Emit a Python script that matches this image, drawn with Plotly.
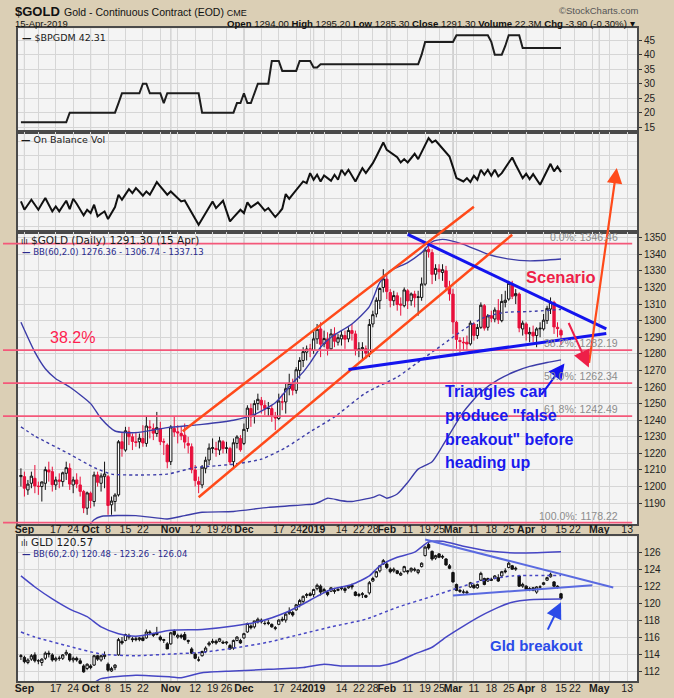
import pandas as pd
import plotly.graph_objects as go

# ---------------- trading calendar ----------------
HOLIDAYS = ["2018-09-03", "2018-11-22", "2018-12-25", "2019-01-01",
            "2019-01-21", "2019-02-18", "2019-04-19", "2019-05-27"]
SESSIONS = [d.strftime("%Y-%m-%d") for d in pd.bdate_range("2018-08-31", "2019-05-31")]
SESSIONS = [d for d in SESSIONS if d not in HOLIDAYS]
POS = {d: i for i, d in enumerate(SESSIONS)}
N_DAYS = 156
DATES = SESSIONS[:N_DAYS]

# ---------------- $GOLD daily OHLC ----------------
GOLD_OPEN = [
    1206, 1206, 1198, 1202, 1205, 1200, 1200, 1202, 1210, 1209,
    1201, 1204, 1203, 1208, 1211, 1201, 1204, 1201, 1197, 1187,
    1196, 1191, 1207, 1202, 1206, 1206, 1189, 1191, 1195, 1227,
    1222, 1233, 1230, 1227, 1227, 1229, 1226, 1236, 1235, 1232,
    1235, 1227, 1225, 1215, 1235, 1233, 1232, 1231, 1226, 1224,
    1210, 1203, 1201, 1211, 1216, 1223, 1223, 1222, 1227, 1223,
    1223, 1215, 1226, 1229, 1226, 1235, 1247, 1243, 1250, 1252,
    1249, 1247, 1247, 1242, 1241, 1251, 1251, 1259, 1262, 1258,
    1270, 1276, 1281, 1283, 1282, 1289, 1295, 1286, 1289, 1283,
    1292, 1287, 1289, 1291, 1289, 1294, 1292, 1282, 1283, 1283,
    1280, 1298, 1304, 1312, 1320, 1325, 1317, 1312, 1315, 1310,
    1309, 1318, 1312, 1316, 1314, 1314, 1322, 1343, 1341, 1328,
    1331, 1329, 1330, 1320, 1316, 1299, 1288, 1287, 1287, 1286,
    1298, 1291, 1296, 1309, 1296, 1303, 1301, 1306, 1300, 1311,
    1313, 1322, 1315, 1316, 1295, 1298, 1292, 1293, 1291, 1295,
    1295, 1300, 1307, 1311, 1296, 1294.0]
GOLD_HIGH = [
    1211, 1209, 1204, 1209, 1213, 1203, 1203, 1212, 1215, 1212,
    1206, 1208, 1209, 1215, 1214, 1206, 1208, 1206, 1198, 1197,
    1197, 1209, 1209, 1208, 1215, 1207, 1194, 1196, 1228, 1233,
    1236, 1236, 1232, 1233, 1232, 1237, 1242, 1240, 1238, 1245,
    1239, 1229, 1226, 1237, 1242, 1237, 1236, 1238, 1230, 1226,
    1213, 1206, 1213, 1218, 1226, 1229, 1227, 1230, 1228, 1227,
    1224, 1229, 1231, 1231, 1238, 1249, 1250, 1252, 1256, 1254,
    1252, 1251, 1249, 1245, 1256, 1256, 1262, 1268, 1265, 1272,
    1278, 1284, 1285, 1286, 1295, 1298, 1299, 1294, 1293, 1295,
    1296, 1292, 1294, 1294, 1296, 1298, 1294, 1287, 1287, 1285,
    1301, 1306, 1314, 1320, 1331, 1328, 1319, 1318, 1317, 1314,
    1320, 1319, 1317, 1318, 1318, 1326, 1344, 1347, 1343, 1334,
    1334, 1334, 1333, 1324, 1319, 1300, 1290, 1290, 1291, 1300,
    1299, 1298, 1311, 1310, 1304, 1306, 1308, 1313, 1316, 1318,
    1324, 1324, 1319, 1317, 1300, 1299, 1296, 1297, 1296, 1299,
    1304, 1309, 1314, 1312, 1299, 1295.2]
GOLD_LOW = [
    1200, 1194, 1195, 1199, 1196, 1195, 1191, 1198, 1203, 1197,
    1198, 1199, 1200, 1204, 1198, 1196, 1199, 1194, 1184, 1183,
    1187, 1188, 1200, 1197, 1199, 1183, 1183, 1185, 1194, 1218,
    1221, 1225, 1222, 1224, 1223, 1224, 1224, 1229, 1228, 1230,
    1225, 1219, 1211, 1213, 1230, 1226, 1228, 1223, 1220, 1208,
    1200, 1196, 1199, 1208, 1213, 1220, 1218, 1219, 1220, 1220,
    1213, 1211, 1223, 1221, 1225, 1233, 1236, 1238, 1246, 1244,
    1243, 1242, 1239, 1234, 1240, 1246, 1244, 1255, 1255, 1256,
    1265, 1272, 1276, 1278, 1280, 1286, 1278, 1284, 1279, 1282,
    1284, 1285, 1285, 1283, 1287, 1288, 1279, 1278, 1276, 1277,
    1278, 1296, 1302, 1307, 1317, 1313, 1308, 1309, 1306, 1303,
    1308, 1307, 1309, 1308, 1303, 1312, 1321, 1338, 1322, 1324,
    1325, 1324, 1318, 1312, 1292, 1283, 1281, 1282, 1282, 1285,
    1288, 1289, 1295, 1294, 1294, 1299, 1299, 1298, 1299, 1308,
    1312, 1313, 1310, 1293, 1291, 1288, 1287, 1287, 1284, 1290,
    1294, 1298, 1304, 1292, 1290, 1285.3]
GOLD_CLOSE = [
    1206.7, 1199.0, 1201.5, 1206.3, 1200.4, 1200.2, 1202.8, 1210.2, 1208.8, 1201.1,
    1204.0, 1203.2, 1208.3, 1211.4, 1201.5, 1204.0, 1201.6, 1197.1, 1187.1, 1196.2,
    1191.6, 1207.0, 1202.6, 1206.4, 1207.6, 1188.6, 1191.3, 1194.9, 1227.0, 1222.8,
    1233.6, 1230.1, 1227.2, 1226.6, 1229.2, 1226.3, 1236.5, 1235.5, 1232.2, 1235.5,
    1227.1, 1226.9, 1214.9, 1235.9, 1232.9, 1232.4, 1230.6, 1226.8, 1224.9, 1210.2,
    1203.6, 1201.4, 1211.7, 1215.9, 1223.2, 1223.4, 1222.3, 1227.6, 1222.9, 1223.3,
    1214.8, 1226.4, 1229.9, 1222.2, 1234.5, 1247.3, 1242.0, 1250.0, 1252.6, 1249.2,
    1247.0, 1247.2, 1242.9, 1241.4, 1251.6, 1251.0, 1259.0, 1262.2, 1258.1, 1270.4,
    1276.0, 1281.3, 1282.9, 1282.0, 1289.0, 1294.8, 1285.8, 1289.2, 1283.2, 1292.0,
    1287.6, 1289.7, 1291.3, 1288.8, 1294.1, 1292.3, 1282.0, 1283.0, 1283.7, 1280.4,
    1297.7, 1303.6, 1312.3, 1319.4, 1325.2, 1317.5, 1312.1, 1315.1, 1309.7, 1309.4,
    1318.5, 1311.9, 1316.1, 1313.8, 1314.3, 1322.1, 1342.6, 1341.5, 1327.9, 1331.5,
    1329.5, 1330.7, 1320.3, 1316.1, 1299.2, 1288.7, 1287.5, 1286.7, 1285.9, 1298.5,
    1291.1, 1295.9, 1309.3, 1295.5, 1302.9, 1301.5, 1306.4, 1300.5, 1311.6, 1312.3,
    1322.5, 1314.7, 1316.3, 1295.6, 1298.5, 1292.0, 1292.9, 1290.8, 1295.0, 1295.4,
    1300.3, 1307.4, 1311.1, 1296.2, 1295.2, 1291.3]

# ---------------- GLD daily OHLC ----------------
GLD_OPEN = [
    113.7, 113.6, 113.0, 113.4, 113.9, 113.2, 113.0, 113.5, 114.1, 113.9,
    113.3, 113.5, 113.5, 114.0, 114.0, 113.3, 113.5, 113.2, 112.6, 112.3,
    112.6, 112.7, 113.8, 113.3, 113.7, 112.8, 112.0, 112.4, 113.9, 115.5,
    115.6, 116.2, 115.8, 115.8, 115.7, 115.9, 115.9, 116.6, 116.4, 116.3,
    116.0, 115.6, 115.2, 115.2, 116.7, 116.0, 116.2, 116.3, 115.6, 114.6,
    114.0, 113.3, 113.8, 114.3, 115.1, 115.5, 115.5, 115.5, 115.4, 115.3,
    115.0, 114.7, 115.6, 115.6, 115.9, 116.6, 117.3, 117.2, 117.8, 118.0,
    117.6, 117.7, 117.5, 117.0, 117.5, 118.1, 118.0, 118.8, 118.9, 119.2,
    119.8, 120.2, 120.9, 121.1, 121.0, 121.7, 122.0, 121.3, 121.3, 121.4,
    121.5, 121.5, 121.7, 121.7, 121.8, 122.1, 121.3, 120.9, 121.0, 120.9,
    121.2, 122.6, 123.1, 123.8, 124.6, 124.6, 124.0, 123.8, 123.8, 123.3,
    123.7, 123.8, 123.8, 124.0, 123.6, 124.3, 125.6, 126.9, 126.1, 125.3,
    125.8, 125.4, 125.2, 124.4, 123.6, 122.2, 121.5, 121.3, 121.2, 121.9,
    122.1, 121.8, 122.7, 122.9, 122.6, 122.8, 122.9, 123.0, 123.2, 123.8,
    124.2, 124.4, 124.0, 123.2, 122.0, 122.0, 121.6, 121.8, 121.3, 121.9,
    122.2, 122.7, 123.1, 122.5, 122.0, 121.1]
GLD_HIGH = [
    114.0, 113.8, 113.5, 114.0, 114.2, 113.4, 113.5, 114.3, 114.4, 114.1,
    113.7, 113.8, 114.0, 114.5, 114.1, 113.7, 113.7, 113.5, 112.8, 112.9,
    112.8, 113.9, 113.9, 113.9, 114.3, 113.0, 112.5, 112.8, 115.9, 116.0,
    116.4, 116.4, 116.0, 116.1, 116.0, 116.2, 116.9, 116.8, 116.5, 117.2,
    116.2, 115.8, 115.4, 116.6, 116.9, 116.4, 116.4, 116.6, 115.7, 114.8,
    114.2, 113.7, 114.4, 114.9, 115.5, 115.8, 115.7, 115.9, 115.6, 115.5,
    115.2, 115.7, 116.1, 115.8, 116.5, 117.7, 117.5, 117.9, 118.3, 118.2,
    117.9, 118.0, 117.6, 117.3, 118.1, 118.4, 118.9, 119.5, 119.1, 119.9,
    120.5, 120.9, 121.2, 121.3, 121.7, 122.3, 122.2, 121.8, 121.5, 121.9,
    121.8, 121.8, 122.0, 121.9, 122.1, 122.3, 121.4, 121.2, 121.3, 121.0,
    122.6, 123.1, 123.8, 124.5, 125.2, 124.9, 124.2, 124.2, 123.9, 123.7,
    124.4, 123.9, 124.2, 124.2, 124.0, 124.8, 126.7, 127.2, 126.2, 125.7,
    125.9, 125.7, 125.3, 124.6, 123.7, 122.3, 121.7, 121.6, 121.5, 122.5,
    122.3, 122.3, 123.7, 123.0, 123.0, 123.0, 123.3, 123.4, 123.8, 124.1,
    124.9, 124.5, 124.3, 123.3, 122.4, 122.1, 121.9, 121.9, 122.0, 122.1,
    122.5, 123.1, 123.6, 122.6, 122.1, 121.2]
GLD_LOW = [
    113.3, 112.9, 112.8, 113.2, 113.0, 112.8, 112.6, 113.3, 113.6, 113.1,
    113.1, 113.2, 113.3, 113.8, 113.1, 113.0, 113.1, 112.8, 111.8, 112.1,
    112.2, 112.6, 113.2, 113.1, 113.4, 111.9, 111.9, 112.1, 113.8, 115.1,
    115.5, 115.7, 115.4, 115.5, 115.5, 115.5, 115.8, 116.2, 116.0, 116.2,
    115.5, 115.3, 114.6, 115.1, 116.1, 115.8, 115.8, 115.6, 115.2, 114.0,
    113.4, 113.1, 113.7, 114.1, 114.9, 115.2, 115.1, 115.4, 115.2, 115.1,
    114.5, 114.5, 115.5, 115.2, 115.8, 116.5, 116.9, 117.0, 117.6, 117.6,
    117.4, 117.4, 117.1, 116.8, 117.4, 117.8, 117.7, 118.6, 118.4, 119.1,
    119.5, 119.9, 120.6, 120.8, 120.7, 121.5, 120.9, 121.2, 120.8, 121.3,
    121.1, 121.4, 121.5, 121.2, 121.7, 121.6, 120.8, 120.7, 120.6, 120.6,
    121.0, 122.5, 123.0, 123.6, 124.5, 124.0, 123.5, 123.6, 123.4, 123.2,
    123.6, 123.4, 123.6, 123.7, 123.4, 124.2, 125.5, 126.3, 125.0, 125.1,
    125.3, 125.2, 124.4, 124.0, 122.4, 121.4, 121.2, 121.1, 121.0, 121.8,
    121.7, 121.7, 122.6, 122.1, 122.5, 122.6, 122.8, 122.5, 123.1, 123.5,
    124.1, 123.9, 123.8, 121.9, 121.8, 121.5, 121.4, 121.4, 121.1, 121.7,
    122.1, 122.6, 123.0, 121.9, 121.7, 120.4]
GLD_CLOSE = [
    113.8, 113.1, 113.3, 113.8, 113.2, 113.2, 113.4, 114.1, 114.0, 113.3,
    113.5, 113.5, 113.9, 114.2, 113.3, 113.5, 113.3, 112.9, 111.9, 112.8,
    112.4, 113.8, 113.4, 113.8, 113.9, 112.1, 112.3, 112.7, 115.7, 115.3,
    116.3, 116.0, 115.7, 115.7, 115.9, 115.6, 116.6, 116.5, 116.2, 116.5,
    115.7, 115.7, 114.6, 116.5, 116.3, 116.2, 116.0, 115.7, 115.5, 114.1,
    113.5, 113.3, 114.3, 114.7, 115.3, 115.4, 115.3, 115.8, 115.3, 115.4,
    114.6, 115.6, 116.0, 115.3, 116.4, 117.6, 117.1, 117.9, 118.1, 117.8,
    117.6, 117.6, 117.2, 117.1, 118.0, 118.0, 118.7, 119.0, 118.6, 119.8,
    120.3, 120.8, 121.0, 120.9, 121.6, 122.1, 121.3, 121.6, 121.0, 121.8,
    121.4, 121.6, 121.8, 121.5, 122.0, 121.9, 120.9, 121.0, 121.1, 120.7,
    122.4, 122.9, 123.7, 124.4, 125.0, 124.2, 123.7, 124.0, 123.5, 123.5,
    124.3, 123.7, 124.1, 123.9, 123.9, 124.7, 126.6, 126.5, 125.2, 125.6,
    125.4, 125.5, 124.5, 124.1, 122.5, 121.5, 121.4, 121.3, 121.3, 122.4,
    121.8, 122.2, 123.5, 122.2, 122.9, 122.7, 123.2, 122.6, 123.7, 123.7,
    124.7, 124.0, 124.1, 122.0, 122.2, 121.6, 121.7, 121.5, 121.9, 121.9,
    122.4, 123.0, 123.4, 122.0, 121.9, 120.57]

# ---------------- indicators ----------------
BPGDM = [
    16.7, 16.7, 16.7, 16.7, 16.7, 16.7, 16.7, 16.7, 16.7, 16.7, 16.7, 16.7, 16.7, 16.7, 20.0, 20.0, 20.0, 20.0, 20.0, 20.0,
    20.0, 20.0, 20.0, 20.0, 20.0, 20.0, 20.0, 20.0, 23.3, 26.7, 26.7, 26.7, 26.7, 26.7, 26.7, 30.0, 30.0, 26.7, 26.7, 26.7,
    26.7, 23.3, 26.7, 26.7, 26.7, 26.7, 26.7, 26.7, 26.7, 26.7, 26.7, 26.7, 20.0, 20.0, 20.0, 20.0, 20.0, 20.0, 20.0, 20.0,
    20.0, 20.0, 23.3, 23.3, 26.7, 23.3, 23.3, 26.7, 30.0, 30.0, 30.0, 30.0, 37.8, 37.8, 37.8, 34.4, 34.4, 34.4, 34.4, 34.4,
    37.8, 37.8, 37.8, 37.8, 35.6, 35.6, 36.7, 36.7, 36.7, 36.7, 36.7, 36.7, 36.7, 36.7, 36.7, 36.7, 36.7, 36.7, 36.7, 36.7,
    36.7, 36.7, 36.7, 36.7, 36.7, 36.7, 36.7, 36.7, 36.7, 36.7, 36.7, 36.7, 36.7, 36.7, 36.7, 40.0, 44.4, 44.4, 44.4, 44.4,
    44.4, 44.4, 44.4, 44.4, 44.4, 46.7, 46.7, 46.7, 46.7, 46.7, 46.7, 46.7, 46.7, 46.7, 46.7, 44.4, 40.0, 40.0, 40.0, 43.0,
    46.7, 46.7, 46.7, 46.7, 42.31, 42.31, 42.31, 42.31, 42.31, 42.31, 42.31, 42.31, 42.31, 42.31, 42.31, 42.31]
OBV = [
    85, 60, 75, 90, 75, 60, 78, 95, 75, 55,
    70, 55, 71, 87, 62, 93, 78, 60, 43, 60,
    50, 75, 40, 48, 55, 32, 50, 68, 105, 90,
    106, 122, 110, 125, 114, 102, 115, 105, 124, 143,
    130, 117, 105, 115, 105, 95, 85, 88, 70, 52,
    34, 15, 32, 50, 68, 85, 65, 76, 87, 56,
    25, 37, 48, 60, 50, 82, 67, 75, 82, 70,
    57, 65, 52, 38, 50, 63, 107, 93, 106, 119,
    132, 145, 140, 170, 150, 165, 145, 163, 155, 147,
    165, 150, 180, 165, 180, 162, 145, 165, 185, 170,
    185, 200, 220, 242, 262, 240, 232, 225, 218, 202,
    212, 202, 215, 228, 212, 233, 254, 275, 262, 268,
    256, 244, 232, 220, 188, 155, 150, 145, 155, 143,
    162, 150, 180, 165, 180, 162, 180, 160, 170, 185,
    200, 217, 195, 175, 155, 168, 152, 167, 151, 135,
    156, 177, 198, 175, 190, 173]

GOLD_BB_UP_D = ["2018-08-31", "2018-09-07", "2018-09-12", "2018-09-17", "2018-09-21", "2018-10-01",
                "2018-10-04", "2018-10-10", "2018-10-18", "2018-10-31", "2018-11-14", "2018-11-28",
                "2018-12-06", "2018-12-14", "2018-12-21", "2018-12-27", "2018-12-31", "2019-01-04",
                "2019-01-09", "2019-01-17", "2019-01-25", "2019-01-30", "2019-02-04", "2019-02-11",
                "2019-02-15", "2019-02-21", "2019-02-26", "2019-03-06", "2019-03-15", "2019-03-22",
                "2019-04-02", "2019-04-15"]
GOLD_BB_UP_V = [1299, 1281, 1271, 1265, 1260, 1250, 1241, 1233.5, 1232.5, 1235.5, 1237.5, 1240,
                1243.5, 1250.5, 1262.5, 1269, 1274.5, 1284, 1290, 1298, 1308.5, 1323, 1330, 1335,
                1341, 1347.5, 1349, 1346, 1340, 1337.5, 1336, 1337.13]
GOLD_BB_MID_D = ["2018-08-31", "2018-09-07", "2018-09-21", "2018-10-02", "2018-10-09", "2018-10-18",
                 "2018-10-31", "2018-11-12", "2018-11-20", "2018-11-28", "2018-12-10", "2018-12-19",
                 "2018-12-31", "2019-01-10", "2019-01-24", "2019-02-06", "2019-02-14", "2019-02-26",
                 "2019-03-06", "2019-03-14", "2019-03-22", "2019-04-02", "2019-04-15"]
GOLD_BB_MID_V = [1236, 1230.5, 1219.5, 1211.5, 1207.5, 1207, 1207.5, 1211.5, 1212.5, 1213.5, 1216.5,
                 1223.5, 1233, 1242, 1256.5, 1266, 1275, 1285.5, 1294.5, 1302, 1305, 1305.5, 1306.74]
GOLD_BB_LO_D = ["2018-09-28", "2018-10-02", "2018-10-04", "2018-10-18", "2018-10-31", "2018-11-07",
                "2018-11-14", "2018-11-28", "2018-12-12", "2018-12-27", "2019-01-02", "2019-01-04",
                "2019-01-08", "2019-01-14", "2019-01-17", "2019-01-28", "2019-01-30", "2019-02-01",
                "2019-02-06", "2019-02-11", "2019-02-14", "2019-02-21", "2019-02-26", "2019-03-06",
                "2019-03-13", "2019-03-20", "2019-03-27", "2019-04-02", "2019-04-09", "2019-04-15"]
GOLD_BB_LO_V = [1175, 1180, 1182, 1182.5, 1180.5, 1182.5, 1184.5, 1185, 1187.5, 1189, 1189.5, 1191,
                1193, 1191.5, 1191, 1193.5, 1195, 1193, 1195.5, 1202.5, 1210.5, 1215, 1224.5, 1245,
                1257, 1264.5, 1269.5, 1272.4, 1274.8, 1276.36]

GLD_BB_UP_D = ["2018-08-31", "2018-09-07", "2018-09-14", "2018-09-21", "2018-09-28", "2018-10-04",
               "2018-10-11", "2018-10-18", "2018-11-01", "2018-11-14", "2018-11-28", "2018-12-10",
               "2018-12-19", "2018-12-27", "2019-01-03", "2019-01-09", "2019-01-17", "2019-01-25",
               "2019-01-30", "2019-02-06", "2019-02-13", "2019-02-20", "2019-02-26", "2019-03-06",
               "2019-03-18", "2019-03-29", "2019-04-15"]
GLD_BB_UP_V = [123.2, 121.9, 120.5, 119.3, 118.4, 117.2, 116.4, 116.1, 116.8, 116.9, 117.3, 117.9,
               118.9, 119.9, 120.8, 121.6, 122.2, 123.2, 124.4, 125.4, 126.0, 127.2, 127.3, 126.7,
               126.1, 125.9, 126.04]
GLD_BB_MID_D = ["2018-08-31", "2018-09-07", "2018-09-21", "2018-10-04", "2018-10-18", "2018-11-01",
                "2018-11-14", "2018-11-28", "2018-12-12", "2018-12-27", "2019-01-09", "2019-01-24",
                "2019-02-06", "2019-02-21", "2019-03-01", "2019-03-13", "2019-03-26", "2019-04-15"]
GLD_BB_MID_V = [116.6, 116.0, 114.9, 114.0, 113.8, 114.0, 114.2, 114.7, 115.4, 116.4, 117.2, 118.1,
                119.5, 120.8, 121.6, 122.6, 123.2, 123.26]
GLD_BB_LO_D = ["2018-10-02", "2018-10-04", "2018-10-18", "2018-11-01", "2018-11-06", "2018-11-14",
               "2018-11-28", "2018-12-12", "2018-12-27", "2019-01-07", "2019-01-14", "2019-01-24",
               "2019-01-30", "2019-02-06", "2019-02-13", "2019-02-21", "2019-02-27", "2019-03-06",
               "2019-03-13", "2019-03-20", "2019-03-26", "2019-04-02", "2019-04-15"]
GLD_BB_LO_V = [110.6, 111.1, 111.5, 111.3, 111.2, 111.8, 112.0, 112.2, 112.4, 112.8, 112.6, 112.6,
               112.6, 113.1, 114.0, 114.8, 116.0, 117.3, 118.5, 119.5, 120.1, 120.4, 120.48]

FIB_LEVELS = [1346.46, 1282.19, 1262.34, 1242.49, 1178.22]
FIB_LABELS = ["0.0%: 1346.46", "38.2%: 1282.19", "50.0%: 1262.34", "61.8%: 1242.49", "100.0%: 1178.22"]

TICK_DATES = ["2018-09-04", "2018-09-10", "2018-09-17", "2018-09-24", "2018-10-01", "2018-10-08",
              "2018-10-15", "2018-10-22", "2018-10-29", "2018-11-01", "2018-11-05", "2018-11-12",
              "2018-11-19", "2018-11-26", "2018-12-03", "2018-12-10", "2018-12-17", "2018-12-24",
              "2018-12-31", "2019-01-02", "2019-01-07", "2019-01-14", "2019-01-22", "2019-01-28",
              "2019-02-01", "2019-02-04", "2019-02-11", "2019-02-19", "2019-02-25", "2019-03-01",
              "2019-03-04", "2019-03-11", "2019-03-18", "2019-03-25", "2019-04-01", "2019-04-08",
              "2019-04-15", "2019-04-22", "2019-04-29", "2019-05-01", "2019-05-06", "2019-05-13"]
TICK_TEXT = ["<b>Sep</b>", "", "17", "24", "<b>Oct</b>", "8",
             "15", "22", "", "<b>Nov</b>", "", "12",
             "19", "26", "<b>Dec</b>", "", "17", "24",
             "", "<b>2019</b>", "", "14", "22", "28",
             "<b>Feb</b>", "", "11", "19", "25", "<b>Mar</b>",
             "", "11", "18", "25", "<b>Apr</b>", "8",
             "15", "22", "", "<b>May</b>", "", "13"]
MONTH_DATES = ["2018-09-04", "2018-10-01", "2018-11-01", "2018-12-03", "2019-01-02",
               "2019-02-01", "2019-03-01", "2019-04-01", "2019-05-01"]

# ---------------- layout constants ----------------
W, H = 674, 698
BEIGE = "#dbcfb5"
PLOTBG = "#f4f4f4"
GRID = "#d6d6d6"
MONTHGRID = "#a9a9a9"
BORDER = "#4a4a4a"
ORANGE = "#ff4a1a"
CRIMSON = "#ee1f48"
BLUE = "#1414ee"
BBBLUE = "#3c3ca8"
FIBRED = "#f4587a"

def PX(x):
    return x / W

def PY(y):
    return 1 - y / H

XR = [-0.86, 176.86]
DX = [PX(15), PX(637)]
D1 = [PY(131.7), PY(28.3)]
D2 = [PY(232.7), PY(131.7)]
D3 = [PY(525), PY(232.7)]
D4 = [PY(682), PY(537)]
R1 = [13.5, 49.1]
R2 = [-8, 295]
R3 = [1177.3, 1353.2]
R4 = [110.82, 127.88]

X = [POS[d] for d in DATES]
TICKX = [POS[d] for d in TICK_DATES]

fig = go.Figure()

# panel 1
fig.add_trace(go.Scatter(x=X, y=BPGDM, mode="lines", line=dict(color="#1e1e1e", width=2),
                         xaxis="x", yaxis="y", hoverinfo="skip"))
# panel 2
fig.add_trace(go.Scatter(x=X, y=OBV, mode="lines", line=dict(color="#111111", width=2),
                         xaxis="x2", yaxis="y2", hoverinfo="skip"))
# panel 3 bands
for d, v, dash in [(GOLD_BB_UP_D, GOLD_BB_UP_V, "solid"), (GOLD_BB_LO_D, GOLD_BB_LO_V, "solid"),
                   (GOLD_BB_MID_D, GOLD_BB_MID_V, "dot")]:
    fig.add_trace(go.Scatter(x=[POS[s] for s in d], y=v, mode="lines",
                             line=dict(color=BBBLUE, width=1.4, dash=dash, shape="spline", smoothing=0.6),
                             xaxis="x3", yaxis="y3", hoverinfo="skip"))

up_idx = [i for i in range(N_DAYS) if i == 0 or GOLD_CLOSE[i] >= GOLD_CLOSE[i - 1]]
dn_idx = [i for i in range(N_DAYS) if i > 0 and GOLD_CLOSE[i] < GOLD_CLOSE[i - 1]]
for idxs, col in [(up_idx, "#111111"), (dn_idx, "#e8103c")]:
    fig.add_trace(go.Candlestick(
        x=[X[i] for i in idxs], open=[GOLD_OPEN[i] for i in idxs], high=[GOLD_HIGH[i] for i in idxs],
        low=[GOLD_LOW[i] for i in idxs], close=[GOLD_CLOSE[i] for i in idxs],
        increasing=dict(line=dict(color=col, width=1), fillcolor="white"),
        decreasing=dict(line=dict(color=col, width=1), fillcolor=col),
        whiskerwidth=0, xaxis="x3", yaxis="y3", hoverinfo="skip", showlegend=False))

# panel 4
for d, v, dash in [(GLD_BB_UP_D, GLD_BB_UP_V, "solid"), (GLD_BB_LO_D, GLD_BB_LO_V, "solid"),
                   (GLD_BB_MID_D, GLD_BB_MID_V, "dot")]:
    fig.add_trace(go.Scatter(x=[POS[s] for s in d], y=v, mode="lines",
                             line=dict(color="#4646c4", width=1.5, dash=dash, shape="spline", smoothing=0.6),
                             xaxis="x4", yaxis="y4", hoverinfo="skip"))
fig.add_trace(go.Candlestick(
    x=X, open=GLD_OPEN, high=GLD_HIGH, low=GLD_LOW, close=GLD_CLOSE,
    increasing=dict(line=dict(color="#111111", width=1), fillcolor="white"),
    decreasing=dict(line=dict(color="#111111", width=1), fillcolor="#111111"),
    whiskerwidth=0, xaxis="x4", yaxis="y4", hoverinfo="skip", showlegend=False))

TICKFONT = dict(family="Liberation Sans, Arial", size=10.5, color="#1a1a1a")

def xax(anchor, labels, standoff=0):
    return dict(domain=DX, range=XR, anchor=anchor, tickmode="array", tickvals=TICKX,
                ticktext=TICK_TEXT, showticklabels=labels, ticks="", tickangle=0, showgrid=True,
                gridcolor=GRID, gridwidth=1, zeroline=False, showline=True, mirror=True,
                linecolor=BORDER, linewidth=1.5, tickfont=TICKFONT, ticklabelstandoff=standoff,
                rangeslider=dict(visible=False), fixedrange=True)

def yax(anchor, dom, rng, vals, labels=True):
    return dict(domain=dom, range=rng, anchor=anchor, side="right", tickmode="array",
                tickvals=vals, showticklabels=labels, ticks="outside" if labels else "",
                ticklen=3, tickcolor="#333333", showgrid=True, gridcolor=GRID, gridwidth=1,
                zeroline=False, showline=True, mirror=True, linecolor=BORDER, linewidth=1.5,
                tickfont=dict(family="Liberation Sans, Arial", size=10, color="#222222"),
                fixedrange=True)

fig.update_layout(
    width=W, height=H, margin=dict(l=0, r=0, t=0, b=0),
    paper_bgcolor=BEIGE, plot_bgcolor=PLOTBG, showlegend=False,
    hovermode=False, dragmode=False, boxgap=0.25, boxgroupgap=0.1,
    xaxis=xax("y", False), xaxis2=xax("y2", False),
    xaxis3=xax("y3", True, -6), xaxis4=xax("y4", True, -3),
    yaxis=yax("x", D1, R1, [15, 20, 25, 30, 35, 40, 45]),
    yaxis2=yax("x2", D2, R2, [10, 52, 95, 137, 180, 222, 265], labels=False),
    yaxis3=yax("x3", D3, R3, list(range(1190, 1351, 10))),
    yaxis4=yax("x4", D4, R4, list(range(112, 127, 2))),
)

shapes = []
for xa, ya in [("x", "y"), ("x2", "y2"), ("x3", "y3"), ("x4", "y4")]:
    for md in MONTH_DATES:
        shapes.append(dict(type="line", xref=xa, yref=ya + " domain", x0=POS[md], x1=POS[md],
                           y0=0, y1=1, line=dict(color=MONTHGRID, width=1), layer="below"))
for lv in FIB_LEVELS:
    shapes.append(dict(type="line", xref="paper", yref="y3", x0=0, x1=PX(632), y0=lv, y1=lv,
                       line=dict(color=FIBRED, width=1.8), layer="above"))

def seg(xa, ya, p0, p1, color, width):
    return dict(type="line", xref=xa, yref=ya, x0=POS[p0[0]], y0=p0[1], x1=POS[p1[0]], y1=p1[1],
                line=dict(color=color, width=width), layer="above")

shapes.append(seg("x3", "y3", ("2018-11-13", 1193.6), ("2019-03-26", 1351.8), ORANGE, 2.5))
shapes.append(seg("x3", "y3", ("2019-02-11", 1352.0), ("2019-05-03", 1295.0), BLUE, 3))
shapes.append(seg("x3", "y3", ("2019-01-16", 1270.6), ("2019-05-03", 1292.3), BLUE, 3))
shapes.append(seg("x4", "y4", ("2019-02-19", 127.5), ("2019-05-07", 121.85), "#5a6ae0", 2))
shapes.append(seg("x4", "y4", ("2019-03-01", 120.9), ("2019-04-29", 122.1), "#5a6ae0", 2))
fig.update_layout(shapes=shapes)

ann = []

def arrow(xa, ya, tail, head, color, width, headstyle, size=1.0):
    return dict(xref=xa, yref=ya, axref=xa, ayref=ya, x=POS[head[0]], y=head[1],
                ax=POS[tail[0]], ay=tail[1], text="", showarrow=True, arrowhead=headstyle,
                arrowsize=size, arrowwidth=width, arrowcolor=color, standoff=0, startstandoff=0)

# upper channel line (continues into the OBV panel)
ann.append(arrow("x3", "y3", ("2018-11-06", 1232.7), ("2019-03-11", 1368.6), ORANGE, 2.5, 0))
# scenario arrow
ann.append(arrow("x3", "y3", ("2019-04-26", 1273.6), ("2019-05-08", 1392.0), ORANGE, 2.2, 2, 1.4))
# red down arrow
ann.append(arrow("x3", "y3", ("2019-04-17", 1299.5), ("2019-04-26", 1271.8), CRIMSON, 2, 2, 1.7))
# blue arrow
ann.append(arrow("x3", "y3", ("2019-04-05", 1254.4), ("2019-04-16", 1274.2), BLUE, 2, 2, 1.6))
# GLD arrow
ann.append(arrow("x4", "y4", ("2019-04-09", 116.7), ("2019-04-15", 120.1), "#2b4be8", 2, 2, 1.6))

for lv, lab in zip(FIB_LEVELS, FIB_LABELS):
    ann.append(dict(xref="x3", yref="y3", x=POS["2019-05-09"], y=lv, text=lab, showarrow=False,
                    xanchor="right", yanchor="bottom", yshift=-1,
                    font=dict(family="Liberation Sans, Arial", size=10.5, color="#8c8c8c")))

ann.append(dict(xref="x3", yref="y3", x=POS["2019-04-15"], y=1326, text="<b>Scenario</b>", showarrow=False,
                font=dict(family="Liberation Sans, Arial", size=16.5, color=CRIMSON)))
ann.append(dict(xref="x3", yref="y3", x=POS["2018-09-21"], y=1289.8, text="38.2%", showarrow=False,
                xshift=3, font=dict(family="Liberation Sans, Arial", size=16, color="#ff1f50")))
for txt, yv in [("Triangles can", 1257.4), ('produce "false', 1243.0),
                ('breakout" before', 1228.6), ("heading up", 1214.7)]:
    ann.append(dict(xref="x3", yref="y3", x=POS["2019-02-26"], y=yv, text="<b>" + txt + "</b>",
                    showarrow=False, xanchor="left",
                    font=dict(family="Liberation Sans, Arial", size=16, color="#1a1aee")))
ann.append(dict(xref="x4", yref="y4", x=POS["2019-04-04"], y=115.06, text="<b>Gld breakout</b>",
                showarrow=False, font=dict(family="Liberation Sans, Arial", size=15, color="#2b4be8")))

LEG = "DejaVu Sans"
def ptext(x, y, text, size, color="#1a1a1a", family=LEG, anchor="left"):
    return dict(xref="paper", yref="paper", x=PX(x), y=PY(y), text=text, showarrow=False,
                xanchor=anchor, yanchor="middle", font=dict(family=family, size=size, color=color))

ann.append(ptext(17, 38, "<b>—</b> $BPGDM 42.31", 9.5))
ann.append(ptext(16, 140, "<b>—</b> On Balance Vol", 9.5))
ann.append(ptext(16, 240, "<span style='font-size:8px'>ılı</span> $GOLD (Daily) 1291.30 (15 Apr)", 10.5))
ann.append(ptext(17, 252, "<b>—</b> BB(60,2.0) 1276.36 - 1306.74 - 1337.13", 8.5, "#2a2a8c"))
ann.append(ptext(16, 543, "<span style='font-size:8px'>ılı</span> GLD 120.57", 10.5))
ann.append(ptext(17, 555, "<b>—</b> BB(60,2.0) 120.48 - 123.26 - 126.04", 8.5, "#2a2a8c"))

HF = "Liberation Sans Narrow, Liberation Sans, Arial"
ann.append(ptext(10, 12, "<b>$GOLD</b>", 13, "#111111", HF))
ann.append(ptext(59, 12, "Gold - Continuous Contract (EOD) <span style='font-size:9px'>CME</span>", 10.5, "#111111", HF))
ann.append(ptext(640, 11, "©StockCharts.com", 9.5, "#555555", HF, "right"))
ann.append(ptext(10, 24, "15-Apr-2019", 9.5, "#111111", HF))
ann.append(ptext(637, 24, "<b>Open</b> 1294.00 <b>High</b> 1295.20 <b>Low</b> 1285.30 <b>Close</b> 1291.30 "
                 "<b>Volume</b> 22.3M <b>Chg</b> -3.90 (-0.30%) ▾", 9.6, "#111111", HF, "right"))

fig.update_layout(annotations=ann)
fig.write_html("out.html", config={"displayModeBar": False},
               post_script="document.body.style.margin='0px';document.body.style.overflow='hidden';")
